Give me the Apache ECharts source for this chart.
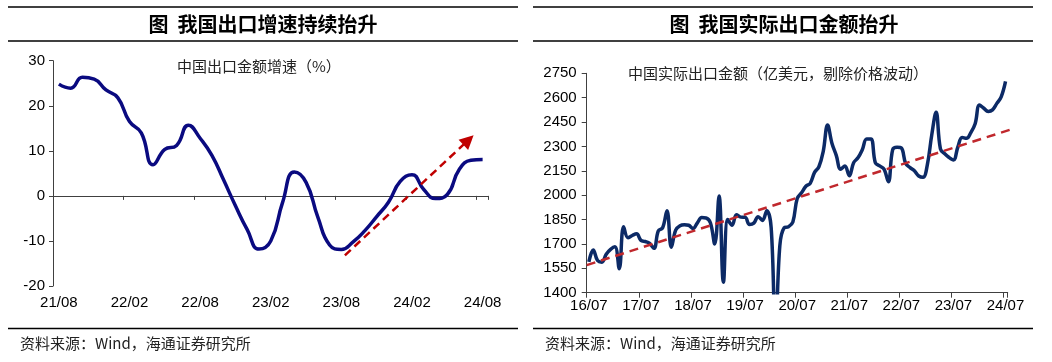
<!DOCTYPE html>
<html><head><meta charset="utf-8">
<script src="https://cdn.jsdelivr.net/npm/echarts@6/dist/echarts.min.js"></script>
<style>html,body{margin:0;padding:0;background:#fff}#c{width:1052px;height:362px}</style>
</head><body><div id="c"></div>
<script>
// ---------- data ----------
const leftTitle = '图  我国出口增速持续抬升';
const rightTitle = '图  我国实际出口金额抬升';
const leftNote = '中国出口金额增速（%）';
const rightNote = '中国实际出口金额（亿美元，剔除价格波动）';
const sourceText = '资料来源：Wind，海通证券研究所';

const leftCategories = ['21/08','21/09','21/10','21/11','21/12',
  '22/01','22/02','22/03','22/04','22/05','22/06','22/07','22/08','22/09','22/10','22/11','22/12',
  '23/01','23/02','23/03','23/04','23/05','23/06','23/07','23/08','23/09','23/10','23/11','23/12',
  '24/01','24/02','24/03','24/04','24/05','24/06','24/07','24/08'];
const leftValues = [24.8, 23.9, 26.3, 25.9, 23.5, 21.8, 16.5, 14.0, 6.9, 10.3,
  11.2, 15.7, 12.8, 9.0, 3.5, -2.2, -7.5, -11.8, -10.0, -1.5,
  5.3, 3.0, -4.7, -10.9, -11.9, -10.2, -7.7, -4.6, -1.4, 3.2,
  4.7, 1.4, -0.6, 0.3, 5.8, 7.9, 8.1];
// trend arrow (category-index position, value)
const leftArrow = [[24.3, -13.2], [34.8, 12.4]];
const leftYTicks = {min: -20, max: 30, step: 10};

const rightCategories = ['16/07','16/08','16/09','16/10','16/11','16/12',
  '17/01','17/02','17/03','17/04','17/05','17/06','17/07','17/08','17/09','17/10','17/11','17/12',
  '18/01','18/02','18/03','18/04','18/05','18/06','18/07','18/08','18/09','18/10','18/11','18/12',
  '19/01','19/02','19/03','19/04','19/05','19/06','19/07','19/08','19/09','19/10','19/11','19/12',
  '20/01','20/02','20/03','20/04','20/05','20/06','20/07','20/08','20/09','20/10','20/11','20/12',
  '21/01','21/02','21/03','21/04','21/05','21/06','21/07','21/08','21/09','21/10','21/11','21/12',
  '22/01','22/02','22/03','22/04','22/05','22/06','22/07','22/08','22/09','22/10','22/11','22/12',
  '23/01','23/02','23/03','23/04','23/05','23/06','23/07','23/08','23/09','23/10','23/11','23/12',
  '24/01','24/02','24/03','24/04','24/05','24/06','24/07'];
const rightValues = [1590, 1663, 1598, 1588, 1637, 1667, 1682, 1548, 1806, 1738,
  1752, 1762, 1722, 1715, 1703, 1673, 1780, 1800, 1905, 1680,
  1785, 1812, 1818, 1815, 1795, 1830, 1862, 1860, 1830, 1700,
  1995, 1465, 1850, 1815, 1880, 1865, 1864, 1820, 1828, 1868,
  1845, 1905, 1800, 1150, 1690, 1800, 1806, 1835, 1980, 2015,
  2055, 2073, 2140, 2175, 2270, 2432, 2320, 2245, 2160, 2180,
  2120, 2200, 2230, 2280, 2345, 2345, 2200, 2180, 2160, 2083,
  2280, 2295, 2290, 2195, 2170, 2150, 2118, 2110, 2190, 2370,
  2510, 2285, 2255, 2232, 2217, 2295, 2355, 2350, 2385, 2440,
  2555, 2535, 2515, 2525, 2565, 2605, 2700];
const rightTrend = [[-0.5, 1570], [97.3, 2405]];
const rightYTicks = {min: 1400, max: 2750, step: 150};

// ---------- chart ----------
const chart = echarts.init(document.getElementById('c'), null, {renderer: 'canvas'});
const AX = '#404040';
const numFont = '"Liberation Sans", Arial, sans-serif';
const cjkFont = '"Noto Sans CJK SC", sans-serif';

function txt(text, x, y, size, weight, align) {
  return {type: 'text', silent: true, x: x, y: y,
    style: {text: text, fontSize: size, fontFamily: cjkFont, fontWeight: weight || 'normal',
      fill: weight ? '#000' : '#222', align: align || 'left', verticalAlign: 'middle'}};
}
function hline(x1, x2, y) {
  return {type: 'line', silent: true, shape: {x1: x1, y1: y, x2: x2, y2: y},
    style: {stroke: '#000', lineWidth: 1.5}};
}
const plain = function (v) { return String(v); };

const option = {
  animation: false,
  backgroundColor: '#fff',
  grid: [
    {left: 53, top: 60.7, width: 435.5, height: 225.3},
    {left: 586.7, top: 73.3, width: 421, height: 219.4}
  ],
  xAxis: [
    {gridIndex: 0, type: 'category', data: leftCategories, boundaryGap: true, position: 'bottom',
      axisLine: {onZero: true, lineStyle: {color: AX, width: 1}},
      axisTick: {show: true, interval: 5, length: 4, lineStyle: {color: AX}},
      axisLabel: {show: false}, splitLine: {show: false}},
    {gridIndex: 0, type: 'category', data: leftCategories, boundaryGap: true, position: 'bottom',
      axisLine: {show: false, onZero: false}, axisTick: {show: false},
      axisLabel: {interval: 5, margin: 9, fontSize: 15, color: '#000', fontFamily: numFont},
      splitLine: {show: false}},
    {gridIndex: 0, type: 'value', min: -0.5, max: 36.5, show: false},
    {gridIndex: 1, type: 'category', data: rightCategories, boundaryGap: true, position: 'bottom',
      axisLine: {onZero: false, lineStyle: {color: AX, width: 1}},
      axisTick: {show: true, interval: 11, length: 5, lineStyle: {color: AX}},
      axisLabel: {interval: 11, margin: 6, fontSize: 15, color: '#000', fontFamily: numFont},
      splitLine: {show: false}},
    {gridIndex: 1, type: 'value', min: -0.5, max: 96.5, show: false}
  ],
  yAxis: [
    {gridIndex: 0, type: 'value', min: leftYTicks.min, max: leftYTicks.max, interval: leftYTicks.step,
      axisLine: {show: true, onZero: false, lineStyle: {color: AX, width: 1}},
      axisTick: {show: true, length: 4, lineStyle: {color: AX}},
      axisLabel: {margin: 8, fontSize: 15, color: '#000', fontFamily: numFont, formatter: plain},
      splitLine: {show: false}},
    {gridIndex: 1, type: 'value', min: rightYTicks.min, max: rightYTicks.max, interval: rightYTicks.step,
      axisLine: {show: true, onZero: false, lineStyle: {color: AX, width: 1}},
      axisTick: {show: true, length: 5, lineStyle: {color: AX}},
      axisLabel: {margin: 10, fontSize: 15, color: '#000', fontFamily: numFont, formatter: plain},
      splitLine: {show: false}}
  ],
  series: [
    {type: 'line', xAxisIndex: 0, yAxisIndex: 0, data: leftValues, smooth: 0.5,
      symbol: 'none', lineStyle: {color: '#0a0a80', width: 3.5}, z: 3},
    {type: 'line', xAxisIndex: 2, yAxisIndex: 0, data: leftArrow, symbol: 'none',
      lineStyle: {opacity: 0}, z: 4,
      markLine: {silent: true, symbol: ['none', 'triangle'], symbolSize: 14, animation: false,
        label: {show: false},
        lineStyle: {type: [8, 5], color: '#c00000', width: 2.5},
        data: [[{coord: leftArrow[0]}, {coord: leftArrow[1]}]]}},
    {type: 'line', xAxisIndex: 3, yAxisIndex: 1, data: rightValues, smooth: 0.4,
      symbol: 'none', lineStyle: {color: '#0c2a66', width: 3.5}, z: 3},
    {type: 'line', xAxisIndex: 4, yAxisIndex: 1, data: rightTrend, symbol: 'none', clip: false,
      lineStyle: {type: [9, 6], color: '#c0282d', width: 2.5}, z: 4}
  ],
  graphic: [
    hline(8, 518, 7), hline(8, 518, 41), hline(8, 518, 328.5),
    hline(533, 1033, 7), hline(533, 1033, 41), hline(533, 1033, 328.5),
    txt(leftTitle, 263, 24, 20, 'bold', 'center'),
    txt(rightTitle, 784, 24, 20, 'bold', 'center'),
    txt(leftNote, 177, 66, 15),
    txt(rightNote, 628, 73, 15),
    txt(sourceText, 20, 343, 15),
    txt(sourceText, 545, 343, 15)
  ]
};
chart.setOption(option);
</script>
</body></html>
